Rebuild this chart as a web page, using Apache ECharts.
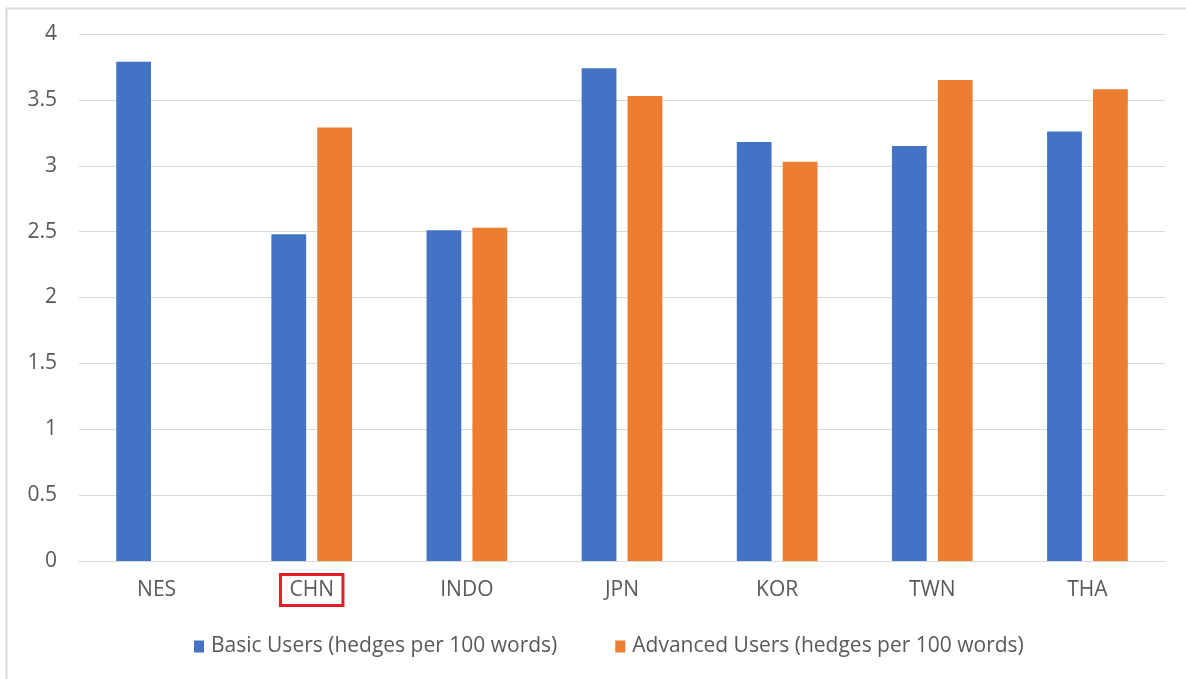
<!DOCTYPE html>
<html>
<head>
<meta charset="utf-8">
<script src="https://cdn.jsdelivr.net/npm/echarts@6/dist/echarts.min.js"></script>
<style>html,body{margin:0;padding:0;background:#fff;}#c{width:1186px;height:679px;}</style>
</head>
<body>
<div id="c"></div>
<script>
const categories = ['NES', 'CHN', 'INDO', 'JPN', 'KOR', 'TWN', 'THA'];
const basicUsers = [3.79, 2.48, 2.51, 3.74, 3.18, 3.15, 3.26];
const advancedUsers = [null, 3.29, 2.53, 3.53, 3.03, 3.65, 3.58];
const seriesNames = ['Basic Users (hedges per 100 words)', 'Advanced Users (hedges per 100 words)'];
const yTicks = [0, 0.5, 1, 1.5, 2, 2.5, 3, 3.5, 4];
const highlighted = 'CHN';

const FONT = '"Open Sans", "Liberation Sans", sans-serif';
const chart = echarts.init(document.getElementById('c'), null, {renderer: 'canvas'});
chart.setOption({
  animation: false,
  backgroundColor: '#ffffff',
  graphic: [{
    type: 'rect', left: 4, top: 6, silent: true,
    shape: {width: 1200, height: 700},
    style: {fill: 'none', stroke: '#d9d9d9', lineWidth: 2}
  }],
  grid: {left: 79, right: 21, top: 34, bottom: 118, containLabel: false},
  legend: {
    top: 631, left: 189,
    itemWidth: 10, itemHeight: 12, itemGap: 58,
    icon: 'rect',
    textStyle: {fontFamily: FONT, fontSize: 21, color: '#595959', padding: [0, 0, 0, 2]},
    data: seriesNames
  },
  xAxis: {
    type: 'category',
    data: categories,
    axisLine: {lineStyle: {color: '#d9d9d9', width: 1}},
    axisTick: {show: false},
    axisLabel: {
      margin: 29,
      verticalAlign: 'middle',
      fontFamily: FONT, fontSize: 21, color: '#595959',
      formatter: v => v === highlighted ? '{hl|' + v + '}' : v,
      rich: {
        hl: {
          fontFamily: FONT, fontSize: 21, color: '#595959',
          borderColor: '#e41e26', borderWidth: 3,
          padding: [5, 9, 5, 9]
        }
      }
    }
  },
  yAxis: {
    type: 'value',
    min: yTicks[0], max: yTicks[yTicks.length - 1], interval: 0.5,
    axisLine: {show: false},
    axisTick: {show: false},
    splitLine: {lineStyle: {color: '#d9d9d9', width: 1}},
    axisLabel: {
      margin: 22,
      fontFamily: FONT, fontSize: 21, color: '#595959',
      formatter: v => String(v)
    }
  },
  series: [
    {
      name: seriesNames[0], type: 'bar', data: basicUsers,
      itemStyle: {color: '#4472c4'},
      barGap: '32%', barCategoryGap: '48%'
    },
    {
      name: seriesNames[1], type: 'bar', data: advancedUsers,
      itemStyle: {color: '#ed7d31'},
      barGap: '32%', barCategoryGap: '48%'
    }
  ]
});
</script>
</body>
</html>
